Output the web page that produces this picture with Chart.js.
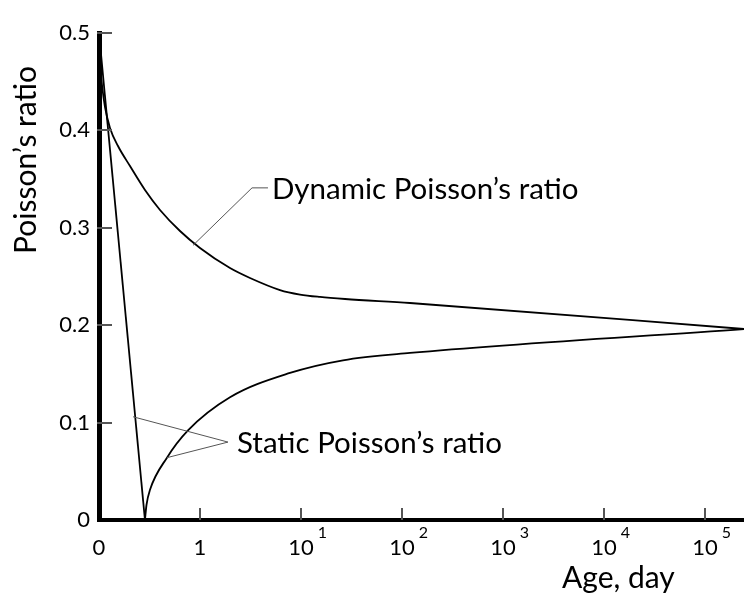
<!DOCTYPE html>
<html>
<head>
<meta charset="utf-8">
<script src="https://cdn.jsdelivr.net/npm/chart.js@4.4.1/dist/chart.umd.min.js"></script>
<style>
  html, body { margin: 0; padding: 0; background: #fff; }
  #chart { display: block; }
</style>
</head>
<body>
<canvas id="chart" width="744" height="598"></canvas>
<script>
// x is an index axis: 0 -> "0", 1 -> "1", 2 -> 10^1 ... 6 -> 10^5
var xTickValues = [0, 1, 2, 3, 4, 5, 6];
var xTickBase = ['0', '1', '10', '10', '10', '10', '10'];
var xTickExp = ['', '', '1', '2', '3', '4', '5'];

var dynamicX = [0, 0.0099, 0.0297, 0.0594, 0.1089, 0.1881, 0.3069, 0.4554, 0.604, 0.802, 1.0, 1.297, 1.495, 1.792, 1.99, 2.188, 2.436, 3.079, 6.386];
var dynamicY = [0.4877, 0.4702, 0.4466, 0.424, 0.4025, 0.384, 0.3634, 0.3388, 0.3183, 0.2967, 0.2793, 0.2587, 0.2485, 0.2361, 0.2315, 0.229, 0.2269, 0.2228, 0.1961];

var staticLineX = [0, 0.455];
var staticLineY = [0.5, 0];

var staticCurveX = [0.455, 0.47, 0.505, 0.673, 0.881, 1.297, 1.891, 2.416, 3.079, 6.386];
var staticCurveY = [0, 0.0154, 0.031, 0.064, 0.092, 0.126, 0.151, 0.164, 0.1715, 0.196];

function pts(xs, ys) {
  return xs.map(function (x, i) { return { x: x, y: ys[i] }; });
}

var FONT = 'Lato, "Open Sans", sans-serif';

// labels with leader lines, anchored in data units
var notes = [
  { text: 'Dynamic Poisson\u2019s ratio', at: { x: 1.713, y: 0.339 },
    leaders: [[{ x: 0.931, y: 0.282 }, { x: 1.515, y: 0.341 }, { x: 1.673, y: 0.341 }]] },
  { text: 'Static Poisson\u2019s ratio', at: { x: 1.366, y: 0.079 },
    leaders: [[{ x: 0.337, y: 0.106 }, { x: 1.277, y: 0.080 }],
              [{ x: 0.673, y: 0.064 }, { x: 1.277, y: 0.080 }]] }
];

var extras = {
  id: 'extras',
  afterDraw: function (chart) {
    var c = chart.ctx, xs = chart.scales.x, ys = chart.scales.y, a = chart.chartArea;
    c.save();
    // tick marks pointing inward
    c.strokeStyle = '#555';
    c.lineWidth = 2;
    ys.ticks.forEach(function (t) {
      if (t.value === 0) return;
      var py = Math.round(ys.getPixelForValue(t.value));
      c.beginPath(); c.moveTo(a.left - 2, py); c.lineTo(a.left + 13, py); c.stroke();
    });
    xTickValues.forEach(function (v) {
      if (v === 0) return;
      var px = Math.round(xs.getPixelForValue(v));
      c.beginPath(); c.moveTo(px, a.bottom); c.lineTo(px, a.bottom - 12); c.stroke();
    });
    // x tick labels with exponents
    c.fillStyle = '#000';
    c.textBaseline = 'middle';
    xTickValues.forEach(function (v, i) {
      var px = xs.getPixelForValue(v);
      c.font = '22px ' + FONT;
      c.textAlign = 'center';
      c.fillText(xTickBase[i], px, a.bottom + 28);
      if (xTickExp[i]) {
        var w = c.measureText(xTickBase[i]).width;
        c.font = '16px ' + FONT;
        c.textAlign = 'left';
        c.fillText(xTickExp[i], px + w / 2 + 4, a.bottom + 13);
      }
    });
    // axis titles
    c.font = '30px ' + FONT;
    c.textAlign = 'left';
    c.fillText('Age, day', 562, 578);
    c.save();
    c.translate(26, 160);
    c.rotate(-Math.PI / 2);
    c.textAlign = 'center';
    c.fillText('Poisson\u2019s ratio', 0, 0);
    c.restore();
    // annotations
    notes.forEach(function (n) {
      c.strokeStyle = '#555';
      c.lineWidth = 1;
      n.leaders.forEach(function (l) {
        c.beginPath();
        l.forEach(function (p, k) {
          var px = xs.getPixelForValue(p.x), py = ys.getPixelForValue(p.y);
          if (k === 0) c.moveTo(px, py); else c.lineTo(px, py);
        });
        c.stroke();
      });
      c.font = '29.5px ' + FONT;
      c.textAlign = 'left';
      c.fillText(n.text, xs.getPixelForValue(n.at.x), ys.getPixelForValue(n.at.y));
    });
    c.restore();
  }
};

var line = { borderColor: '#000', borderWidth: 1.8, pointRadius: 0, showLine: true, fill: false };

new Chart(document.getElementById('chart'), {
  type: 'scatter',
  data: {
    datasets: [
      Object.assign({ label: 'Dynamic', data: pts(dynamicX, dynamicY), cubicInterpolationMode: 'monotone' }, line),
      Object.assign({ label: 'Static line', data: pts(staticLineX, staticLineY), tension: 0 }, line),
      Object.assign({ label: 'Static', data: pts(staticCurveX, staticCurveY), cubicInterpolationMode: 'monotone' }, line)
    ]
  },
  options: {
    responsive: false,
    animation: false,
    devicePixelRatio: 1,
    layout: { padding: { top: 33, right: 0, left: 0, bottom: 0 } },
    plugins: { legend: { display: false }, tooltip: { enabled: false } },
    scales: {
      x: {
        type: 'linear', min: 0, max: 6.386,
        grid: { display: false, drawTicks: false },
        border: { display: true, color: '#000', width: 4 },
        ticks: { display: false },
        afterFit: function (s) { s.height = 78; }
      },
      y: {
        type: 'linear', min: 0, max: 0.5,
        grid: { display: false, drawTicks: false },
        border: { display: true, color: '#000', width: 5 },
        ticks: { stepSize: 0.1, padding: 9, color: '#000', font: { family: FONT, size: 22 } },
        afterFit: function (s) { s.width = 99; }
      }
    }
  },
  plugins: [extras]
});
</script>
</body>
</html>
